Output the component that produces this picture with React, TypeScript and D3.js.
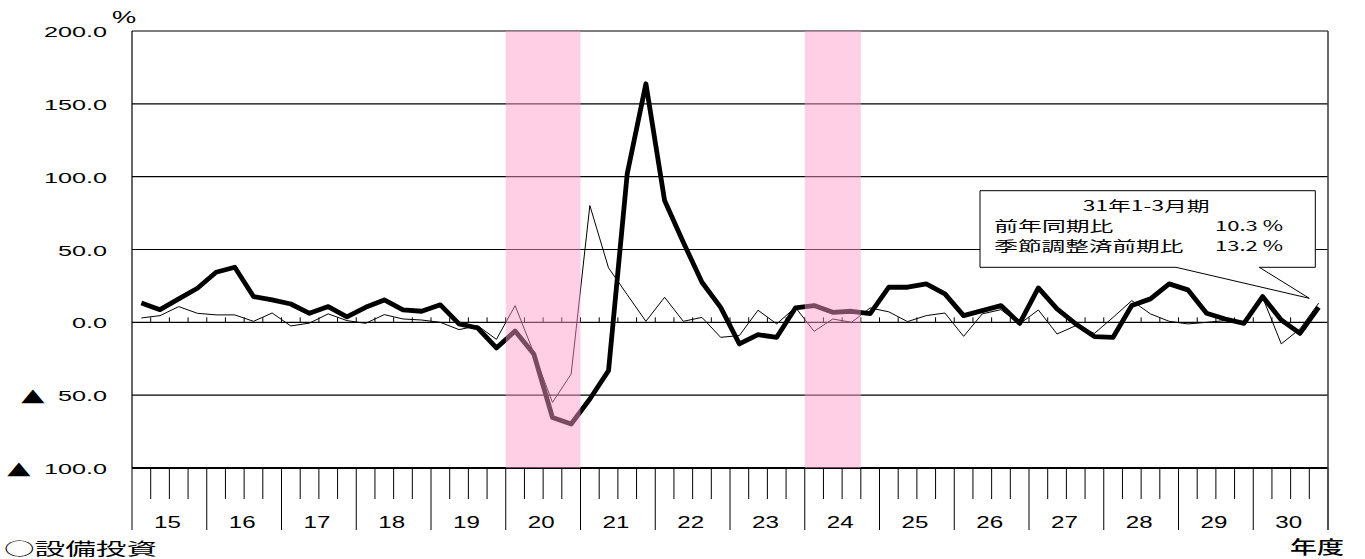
import React from "react";
import * as d3 from "d3";

// Fiscal years on the x axis (each has four quarters)
const fiscalYears = ["15", "16", "17", "18", "19", "20", "21", "22", "23", "24", "25", "26", "27", "28", "29", "30"];

// 前年同期比 (thick line), quarterly, FY15 Q1 .. FY30 Q4
const yoyChange = [
  13.3, 8.7, 16.1, 23.4, 34.4, 37.8, 17.7, 15.4,
  12.6, 6.2, 10.8, 3.8, 10.3, 15.4, 8.5, 7.6,
  12.0, -1.1, -3.9, -17.6, -6.0, -21.7, -65.3, -69.8,
  -52.6, -33.2, 102.0, 163.8, 83.6, 55.0, 27.5, 10.3,
  -14.8, -8.5, -10.3, 9.9, 11.5, 6.9, 7.6, 6.0,
  24.1, 24.1, 26.4, 19.5, 4.6, 8.0, 11.5, -0.7,
  23.6, 9.2, -1.1, -9.8, -10.3, 11.5, 16.1, 26.4,
  22.3, 6.2, 2.3, -0.7, 17.7, 1.6, -7.6, 10.3,
];

// 季節調整済前期比 (thin line)
const qoqChange = [
  3.0, 4.6, 10.8, 6.2, 5.1, 5.1, 0.7, 6.4,
  -2.5, -0.5, 5.8, 1.2, -0.7, 5.3, 2.3, 1.6,
  0.0, -5.0, -2.3, -11.7, 11.5, -21.0, -55.0, -35.5,
  80.2, 37.4, 19.0, 0.7, 17.2, 0.7, 3.4, -10.3,
  -9.1, 8.3, -1.1, 10.3, -6.2, 2.3, 0.0, 9.9,
  7.2, 0.5, 4.6, 6.4, -9.6, 5.8, 8.7, -1.1,
  8.5, -8.0, -2.3, -7.6, 3.4, 14.9, 5.8, 0.7,
  -1.1, 0.0, 1.2, -1.1, 17.2, -14.8, -4.5, 13.2,
];

const yTickValues = [200, 150, 100, 50, 0, -50, -100];
const yTickLabels = ["200.0", "150.0", "100.0", "50.0", "0.0", "▲ 50.0", "▲ 100.0"];

// Shaded periods: fiscal year, first quarter (1-4), number of quarters
const shadedYears = ["20", "24"];
const shadedStartQuarter = [1, 1];
const shadedQuarterCount = [4, 3];

const calloutTitle = "31年1-3月期";
const calloutLabels = ["前年同期比", "季節調整済前期比"];
const calloutValues = ["10.3 %", "13.2 %"];

const unitLabel = "%";
const xAxisTitle = "年度";
const chartTitle = "○設備投資";

const W = 1365;
const H = 559;
const L = 132;
const R = 1328;
const T = 31;
const B = 468;

const NUM_FONT = "'Liberation Sans', Arial, sans-serif";
const JP_FONT = "'Noto Sans CJK JP', 'Noto Sans', sans-serif";
const SYM_FONT = "'DejaVu Sans', sans-serif";

function StretchText(props: {
  x: number; y: number; sx: number; size: number; anchor?: string;
  family?: string; weight?: number | string; ls?: number; children: React.ReactNode;
}) {
  const { x, y, sx, size, anchor = "start", family = NUM_FONT, weight = 400, ls = 0, children } = props;
  return (
    <text
      transform={`translate(${x},${y}) scale(${sx},1)`}
      textAnchor={anchor as any}
      fontSize={size}
      fontFamily={family}
      fontWeight={weight}
      letterSpacing={ls}
      fill="#000"
    >
      {children}
    </text>
  );
}

function renderTickLabel(label: string) {
  if (label.startsWith("▲")) {
    const rest = label.slice(1).trim();
    return (
      <>
        <tspan fontFamily={SYM_FONT} fontSize={18}>▲</tspan>
        <tspan dx={8}>{rest}</tspan>
      </>
    );
  }
  return label;
}

export default function App() {
  const nQ = fiscalYears.length * 4;
  const x = d3.scaleLinear().domain([0, nQ]).range([L, R]);
  const y = d3.scaleLinear().domain([-100, 200]).range([B, T]);

  const line = d3
    .line<number>()
    .x((_, i) => x(i + 0.5))
    .y((d) => y(d));

  const quarterBounds = d3.range(0, nQ + 1);

  const boxL = 980, boxR = 1315.3, boxT = 190.7, boxB = 267.3;
  const gapL = 1176, gapR = 1259.3, tipX = 1309.3, tipY = 298.3;
  const calloutPath = `M${boxL},${boxT} H${boxR} V${boxB} H${gapR} L${tipX},${tipY} L${gapL},${boxB} H${boxL} Z`;

  return (
    <svg
      width={W}
      height={H}
      style={{ position: "absolute", left: 0, top: 0, background: "#fff" }}
    >
      <rect x={0} y={0} width={W} height={H} fill="#fff" />

      {/* horizontal grid lines */}
      {yTickValues.map((v) => (
        <line
          key={v}
          x1={L}
          x2={R}
          y1={y(v)}
          y2={y(v)}
          stroke="#000"
          strokeWidth={v === -100 ? 2 : 1.1}
        />
      ))}

      {/* small ticks on zero line */}
      {quarterBounds.slice(1, -1).map((q) => (
        <line key={`zt${q}`} x1={x(q)} x2={x(q)} y1={y(0)} y2={y(0) - 5} stroke="#000" strokeWidth={1} />
      ))}

      {/* bottom axis ticks */}
      {quarterBounds.map((q) => {
        const isYear = q % 4 === 0;
        return (
          <line
            key={`bt${q}`}
            x1={x(q)}
            x2={x(q)}
            y1={B}
            y2={isYear ? 530 : 499}
            stroke="#000"
            strokeWidth={1}
          />
        );
      })}

      {/* plot borders */}
      <line x1={L} x2={L} y1={T} y2={B} stroke="#000" strokeWidth={1.2} />
      <line x1={R} x2={R} y1={T} y2={530} stroke="#444" strokeWidth={1.6} />

      {/* series */}
      <path d={line(qoqChange) || ""} fill="none" stroke="#000" strokeWidth={1} strokeLinejoin="round" />
      <path d={line(yoyChange) || ""} fill="none" stroke="#000" strokeWidth={4.8} strokeLinejoin="round" />

      {/* shaded periods on top */}
      {shadedYears.map((fy, k) => {
        const yi = fiscalYears.indexOf(fy);
        const q0 = yi * 4 + shadedStartQuarter[k] - 1;
        const q1 = q0 + shadedQuarterCount[k];
        return (
          <rect
            key={`sh${k}`}
            x={x(q0)}
            y={T}
            width={x(q1) - x(q0)}
            height={B - T}
            fill="#ff9ac8"
            fillOpacity={0.48}
          />
        );
      })}

      {/* y axis labels */}
      {yTickValues.map((v, i) => (
        <StretchText key={`yl${v}`} x={107} y={y(v) + 6} sx={1.68} size={15} anchor="end">
          {renderTickLabel(yTickLabels[i])}
        </StretchText>
      ))}
      <StretchText x={112} y={22.5} sx={1.6} size={17}>
        {unitLabel}
      </StretchText>

      {/* x axis labels */}
      {fiscalYears.map((fy, i) => (
        <StretchText key={`xl${fy}`} x={(x(i * 4) + x(i * 4 + 4)) / 2 - 2} y={528} sx={1.42} size={17} anchor="middle">
          {fy}
        </StretchText>
      ))}

      <StretchText x={1290} y={554} sx={1.5} size={18} family={JP_FONT} weight={500}>
        {xAxisTitle}
      </StretchText>

      <StretchText x={4} y={555} sx={1.8} size={17} family={JP_FONT}>
        {chartTitle}
      </StretchText>

      {/* callout */}
      <path d={calloutPath} fill="#fff" stroke="#000" strokeWidth={1} />
      <text
        x={1082.7}
        y={211}
        fontSize={14}
        fontFamily={JP_FONT}
        textLength={127}
        lengthAdjust="spacingAndGlyphs"
      >
        {calloutTitle}
      </text>
      {calloutLabels.map((lab, i) => {
        const widths = [119, 189];
        const by = 231 + i * 19.5;
        return (
          <g key={`cl${i}`}>
            <text x={994.3} y={by} fontSize={14} fontFamily={JP_FONT} textLength={widths[i]} lengthAdjust="spacingAndGlyphs">
              {lab}
            </text>
            <text x={1215} y={by} fontSize={14} fontFamily={JP_FONT} textLength={68} lengthAdjust="spacingAndGlyphs">
              {calloutValues[i]}
            </text>
          </g>
        );
      })}
    </svg>
  );
}
